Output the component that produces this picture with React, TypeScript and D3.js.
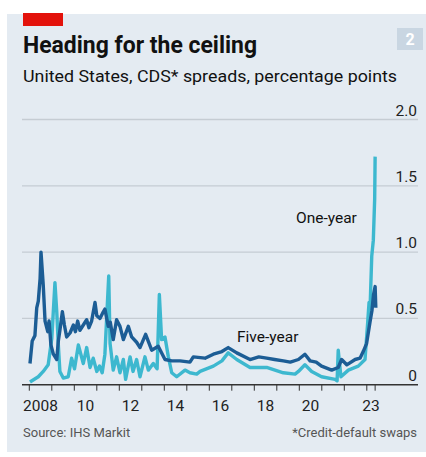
import React from "react";
import * as d3 from "d3";

const yTicks = [0, 0.5, 1.0, 1.5, 2.0];
const yTickLabels = ["0", "0.5", "1.0", "1.5", "2.0"];
const xLabelYears = [2008, 2010, 2012, 2014, 2016, 2018, 2020, 2023];
const xLabelTexts = ["2008", "10", "12", "14", "16", "18", "20", "23"];
const tickYears = [2008, 2009, 2010, 2011, 2012, 2013, 2014, 2015, 2016, 2017, 2018, 2019, 2020, 2021, 2022, 2023, 2023.37];

const fiveYearDates = [
  2008.03, 2008.13, 2008.25, 2008.33, 2008.4, 2008.48, 2008.52, 2008.62, 2008.7, 2008.82,
  2008.88, 2008.96, 2009.07, 2009.22, 2009.29, 2009.36, 2009.47, 2009.56, 2009.66, 2009.81,
  2009.96, 2010.05, 2010.15, 2010.25, 2010.4, 2010.55, 2010.65, 2010.77, 2010.92, 2011.0,
  2011.14, 2011.29, 2011.36, 2011.51, 2011.6, 2011.73, 2011.88, 2012.03, 2012.18, 2012.4,
  2012.55, 2012.77, 2012.92, 2013.17, 2013.44, 2013.73, 2014.03, 2014.33, 2014.7, 2015.14,
  2015.29, 2015.81, 2016.18, 2016.56, 2016.84, 2017.22, 2017.81, 2018.2, 2018.55, 2018.9,
  2019.29, 2019.6, 2019.96, 2020.25, 2020.48, 2020.75, 2020.99, 2021.44, 2021.73, 2021.88,
  2022.11, 2022.48, 2022.7, 2022.84, 2022.99, 2023.14, 2023.23, 2023.3, 2023.37, 2023.4,
];
const fiveYearValues = [
  0.16, 0.33, 0.37, 0.58, 0.63, 0.8, 1.0, 0.75, 0.48, 0.4,
  0.48, 0.3, 0.23, 0.19, 0.33, 0.41, 0.55, 0.45, 0.36, 0.39,
  0.45, 0.4, 0.48, 0.41, 0.45, 0.49, 0.43, 0.48, 0.62, 0.52,
  0.5, 0.55, 0.57, 0.44, 0.47, 0.34, 0.49, 0.44, 0.34, 0.44,
  0.36, 0.32, 0.28, 0.38, 0.26, 0.29, 0.19, 0.18, 0.18, 0.17,
  0.21, 0.2, 0.23, 0.25, 0.28, 0.24, 0.19, 0.21, 0.2, 0.19,
  0.18, 0.17, 0.19, 0.23, 0.18, 0.17, 0.14, 0.11, 0.13, 0.19,
  0.15, 0.19, 0.2, 0.25, 0.31, 0.47, 0.56, 0.68, 0.74, 0.58,
];

const oneYearDates = [
  2008.03, 2008.4, 2008.62, 2008.84, 2009.0, 2009.14, 2009.22, 2009.29, 2009.36, 2009.51,
  2009.73, 2009.88, 2010.01, 2010.18, 2010.4, 2010.55, 2010.7, 2010.84, 2011.0, 2011.12,
  2011.24, 2011.36, 2011.53, 2011.59, 2011.73, 2011.88, 2012.03, 2012.18, 2012.28, 2012.48,
  2012.61, 2012.77, 2012.92, 2013.14, 2013.29, 2013.51, 2013.68, 2013.78, 2013.88, 2014.03,
  2014.18, 2014.33, 2014.55, 2014.92, 2015.14, 2015.44, 2015.59, 2016.18, 2016.56, 2016.84,
  2017.22, 2017.81, 2018.55, 2019.29, 2019.81, 2019.96, 2020.25, 2020.55, 2020.99, 2021.59,
  2021.68, 2021.73, 2021.85, 2022.18, 2022.62, 2022.92, 2023.04, 2023.1, 2023.14, 2023.22,
  2023.29, 2023.35, 2023.37,
];
const oneYearValues = [
  0.02, 0.06, 0.1, 0.15, 0.35, 0.77, 0.55, 0.3, 0.1, 0.05,
  0.06, 0.2, 0.12, 0.3, 0.16, 0.28, 0.13, 0.2, 0.1, 0.14,
  0.09, 0.23, 0.82, 0.31, 0.11, 0.21, 0.09, 0.19, 0.04, 0.21,
  0.1, 0.19, 0.06, 0.21, 0.11, 0.16, 0.12, 0.68, 0.34, 0.36,
  0.21, 0.09, 0.06, 0.11, 0.09, 0.08, 0.1, 0.14, 0.18, 0.24,
  0.19, 0.13, 0.13, 0.09, 0.08, 0.1, 0.15, 0.1, 0.06, 0.04,
  0.03, 0.26, 0.06, 0.11, 0.14, 0.19, 0.47, 0.62, 0.55, 0.97,
  1.09, 1.4, 1.72,
];

const W = 426;
const H = 457;
const FONT = "Roboto, 'Noto Sans', sans-serif";
const DARK = "#1c5d95";
const LIGHT = "#3db8cf";

export default function App() {
  const x = d3.scaleLinear().domain([2008, 2024]).range([29.3, 389.3]);
  const y = d3.scaleLinear().domain([0, 2]).range([384.7, 119.5]);

  const line = d3
    .line<[number, number]>()
    .x((d) => x(d[0]))
    .y((d) => y(d[1]))
    .curve(d3.curveLinear);

  const five: [number, number][] = fiveYearDates.map((t, i) => [t, fiveYearValues[i]]);
  const one: [number, number][] = oneYearDates.map((t, i) => [t, oneYearValues[i]]);

  return (
    <svg
      width={W}
      height={H}
      style={{ position: "absolute", left: 0, top: 0, display: "block" }}
      fontFamily={FONT}
    >
      <rect x={0} y={0} width={W} height={H} fill="#ffffff" />
      <rect x={7} y={14} width={W - 7} height={438} fill="#e4ebf2" />
      <rect x={23} y={13} width={40} height={13} fill="#e3120b" />
      <rect x={397} y={28} width={26} height={22} fill="#c9d6e2" />
      <text x={410} y={45} fill="#ffffff" fontSize={16} fontWeight={700} textAnchor="middle">
        2
      </text>
      <text x={23} y={53} fontSize={23} fontWeight={700} fill="#111" textLength={234} lengthAdjust="spacingAndGlyphs">
        Heading for the ceiling
      </text>
      <text x={23} y={82} fontSize={17} fill="#111" textLength={374} lengthAdjust="spacingAndGlyphs">
        United States, CDS* spreads, percentage points
      </text>

      {yTicks.map((v, i) => (
        <g key={v}>
          {v !== 0 && (
            <line x1={22} x2={418} y1={y(v)} y2={y(v)} stroke="#c5ccd3" strokeWidth={1.3} />
          )}
          <text x={417} y={y(v) - 4} fontSize={15.5} fill="#222" textAnchor="end">
            {yTickLabels[i]}
          </text>
        </g>
      ))}

      <path d={line(one) || ""} fill="none" stroke={LIGHT} strokeWidth={3.4} strokeLinejoin="round" />
      <path d={line(five) || ""} fill="none" stroke={DARK} strokeWidth={3.4} strokeLinejoin="round" />

      <line x1={22} x2={418} y1={y(0)} y2={y(0)} stroke="#333" strokeWidth={1.5} />
      {tickYears.map((t) => (
        <line key={t} x1={x(t)} x2={x(t)} y1={y(0)} y2={y(0) + 6} stroke="#333" strokeWidth={1} />
      ))}
      {xLabelYears.map((t, i) => {
        const cx = t === 2023 ? (x(2023) + x(2023.37)) / 2 : x(t + 0.5);
        return (
          <text key={t} x={cx} y={411} fontSize={15.5} fill="#222" textAnchor="middle">
            {xLabelTexts[i]}
          </text>
        );
      })}

      <text x={296} y={223} fontSize={15.5} fill="#111">
        One-year
      </text>
      <text x={237} y={342} fontSize={15.5} fill="#111">
        Five-year
      </text>

      <text x={23} y={437} fontSize={13} fill="#555">
        Source: IHS Markit
      </text>
      <text x={417} y={437} fontSize={13} fill="#555" textAnchor="end">
        *Credit-default swaps
      </text>
    </svg>
  );
}
